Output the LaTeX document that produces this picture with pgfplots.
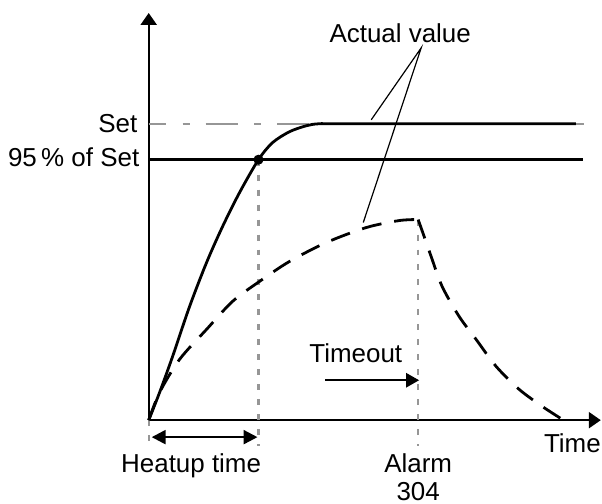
\documentclass[border=0pt]{standalone}
\usepackage{pgfplots}
\pgfplotsset{compat=1.18}
\usepackage{fontspec}
\setmainfont{Liberation Sans}
\usetikzlibrary{arrows.meta}
\definecolor{gridgray}{RGB}{150,150,150}
\begin{document}
\begin{tikzpicture}
\begin{axis}[
  x=0.5pt, y=0.5pt,
  xmin=0, xmax=453, ymin=0, ymax=408,
  axis lines=left,
  axis line style={line width=1.2pt, -{Triangle[length=6pt,width=8pt]}},
  xtick=\empty, ytick=\empty,
  clip=false,
  font=\fontsize{13}{15}\selectfont,
]
\path (axis cs:-149,-83) rectangle (axis cs:453,421);

% Set (reference) line
\addplot[gridgray, line width=1.1pt, dash pattern=on 16pt off 8.5pt on 3.5pt off 8pt, dash phase=7.5pt] coordinates {(0,297) (436,297)};
% 95% of Set
\addplot[black, line width=1.2pt] coordinates {(0,261) (435,261)};

% vertical guides
\addplot[gridgray, line width=1.1pt, dash pattern=on 3pt off 4.5pt] coordinates {(110,261) (110,-26)};
\addplot[gridgray, line width=1.1pt, dash pattern=on 3pt off 4.5pt] coordinates {(270,201) (270,-26)};
\addplot[gridgray, line width=1.1pt, dash pattern=on 3pt off 4.5pt] coordinates {(0,0) (0,-26)};

% actual value, normal heatup
\addplot[black, line width=1.4pt, smooth] coordinates {
  (0,0) (11,28) (24,64) (41,114) (58,158) (74,194) (91,228) (110,261)
  (124,278) (141,289) (158,295) (171,297) (200,297) (428,297)};
% actual value, slow heatup
\addplot[black, line width=1.4pt, smooth, dash pattern=on 10pt off 6.5pt] coordinates {
  (0,0) (11,28) (31,61) (58,91) (84,119) (111,139) (141,159) (178,178)
  (218,193) (251,200) (270,201)};
\addplot[black, line width=1.4pt, smooth, dash pattern=on 10pt off 6.5pt] coordinates {
  (270,201) (276,184) (283,164) (294,134) (311,104) (328,81) (348,54)
  (371,31) (394,14) (414,1)};

% 95% point
\addplot[only marks, mark=*, mark size=2.3pt, black] coordinates {(110,261)};

% arrows
\draw[{Triangle[length=7pt,width=7pt]}-{Triangle[length=7pt,width=7pt]}, line width=1.2pt]
  (axis cs:3,-17) -- (axis cs:109,-17);
\draw[-{Triangle[length=6.5pt,width=7pt]}, line width=1.2pt]
  (axis cs:177,40) -- (axis cs:271,40);

% leaders
\draw[line width=0.6pt] (axis cs:223,301) -- (axis cs:273,373) -- (axis cs:215,198);

% labels
\node[anchor=base east, inner sep=0pt] at (axis cs:-11,288) {Set};
\node[anchor=base east, inner sep=0pt] at (axis cs:-9,254) {95\,\% of Set};
\node[anchor=base, inner sep=0pt] at (axis cs:252,378) {Actual value};
\node[anchor=base, inner sep=0pt] at (axis cs:207.5,58) {Timeout};
\node[anchor=base, inner sep=0pt] at (axis cs:42.5,-52) {Heatup time};
\node[anchor=base, inner sep=0pt] at (axis cs:270,-52) {Alarm};
\node[anchor=base, inner sep=0pt] at (axis cs:270,-80) {304};
\node[anchor=base, inner sep=0pt] at (axis cs:424.5,-32) {Time};
\end{axis}
\end{tikzpicture}
\end{document}
